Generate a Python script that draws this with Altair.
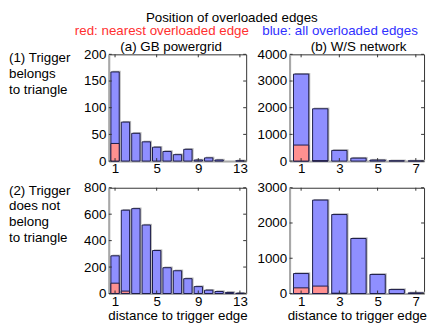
import altair as alt
import pandas as pd

# ---- data ----
dist_a = list(range(1, 14))
blue_a1 = [167, 73, 52, 36, 26, 18, 12, 22, 2, 6, 2, 0, 0.5]
red_a1 = [33, 0, 0, 0, 0, 0, 0, 0, 0, 0, 0, 0, 0]
blue_a2 = [285, 630, 642, 518, 325, 195, 172, 112, 52, 25, 15, 8, 2]
red_a2 = [78, 18, 0, 0, 0, 0, 0, 0, 0, 0, 0, 0, 0]

dist_b = list(range(1, 8))
blue_b1 = [3260, 1960, 400, 110, 37, 10, 5]
red_b1 = [600, 15, 0, 0, 0, 0, 0]
blue_b2 = [566, 2650, 2240, 1560, 540, 112, 17]
red_b2 = [160, 210, 8, 0, 0, 0, 0]

xticks_a = [1, 5, 9, 13]
xticks_b = [1, 3, 5, 7]
yticks_a1 = [0, 50, 100, 150, 200]
yticks_b1 = [0, 1000, 2000, 3000, 4000]
yticks_a2 = [0, 200, 400, 600, 800]
yticks_b2 = [0, 1000, 2000, 3000]

FONT = "Liberation Sans"
FS = 13.5
BLUE = "#8f8fff"
RED = "#ff9090"
EDGE = "#1c1c48"


def one_row():
    return alt.Chart(pd.DataFrame({"k": [0]}))


def panel(dist, blue, red, xdom, xticks, ydom, yticks, w, h, xtitle, extra):
    df = pd.DataFrame({"d": dist, "blue": blue, "red": red})
    xs = alt.Scale(domain=xdom, nice=False, zero=False)
    ys = alt.Scale(domain=ydom, nice=False)
    xax = alt.Axis(values=xticks, ticks=False, grid=False, domainColor="#a8a8a8",
                   domainWidth=2, labelPadding=1, labelFlush=False, format="d",
                   title=xtitle if xtitle else None, titlePadding=1)
    yax = alt.Axis(values=yticks, ticks=False, grid=False, domainColor="#a8a8a8",
                   domainWidth=2, labelPadding=3, format="d", title=None)
    base = alt.Chart(df).transform_calculate(x0="datum.d - 0.4", x1="datum.d + 0.4")
    X = alt.X("x0:Q", scale=xs, axis=xax)
    Y = alt.Y("blue:Q", scale=ys, axis=yax)
    shadow = base.mark_rect(fill="#b4b4b4", xOffset=1.5, x2Offset=1.5, yOffset=-1.2).encode(
        x=X, x2="x1:Q", y=Y, y2=alt.datum(0)).transform_filter("datum.blue > 0")
    bars = base.mark_rect(fill=BLUE, stroke=EDGE, strokeWidth=1).encode(
        x=X, x2="x1:Q", y=Y, y2=alt.datum(0)).transform_filter("datum.blue > 0")
    reds = base.mark_rect(fill=RED, stroke=EDGE, strokeWidth=1).encode(
        x=X, x2="x1:Q", y=alt.Y("red:Q", scale=ys, axis=yax), y2=alt.datum(0)
    ).transform_filter("datum.red > 0")
    yt = alt.Chart(pd.DataFrame({"v": yticks}))
    xt = alt.Chart(pd.DataFrame({"v": xticks}))
    YT = alt.Y("v:Q", scale=ys, axis=yax)
    XT = alt.X("v:Q", scale=xs, axis=xax)
    tick_l = yt.mark_rule(color="#333", strokeWidth=1).encode(y=YT, x=alt.value(0), x2=alt.value(3))
    tick_r = yt.mark_rule(color="#333", strokeWidth=1).encode(y=YT, x=alt.value(w - 3), x2=alt.value(w))
    tick_b = xt.mark_rule(color="#333", strokeWidth=1).encode(x=XT, y=alt.value(h - 3), y2=alt.value(h))
    tick_t = xt.mark_rule(color="#333", strokeWidth=1).encode(x=XT, y=alt.value(0), y2=alt.value(3))
    layers = [shadow, bars, reds, tick_l, tick_r, tick_b, tick_t] + extra
    return alt.layer(*layers).properties(width=w, height=h)


def label(text, x, y, color="black", align="left"):
    return one_row().mark_text(text=text, align=align, baseline="top", font=FONT, fontSize=FS,
                               color=color, lineBreak="\n", lineHeight=16).encode(
        x=alt.value(x), y=alt.value(y))


WA, WB, H1, H2 = 139, 136, 108, 107

extra_a1 = [
    label("Position of overloaded edges", 124.5, -44, align="center"),
    label("red: nearest overloaded edge", 53.7, -31, color="#ff3030", align="center"),
    label("(a) GB powergrid", 63, -14, align="center"),
    label("(1) Trigger\nbelongs\nto triangle", -101, -3),
]
extra_b1 = [
    label("blue: all overloaded edges", 51, -31, color="#3030ff", align="center"),
    label("(b) W/S network", 69.7, -14, align="center"),
]
extra_a2 = [label("(2) Trigger\ndoes not\nbelong\nto triangle", -101, -4)]

pa1 = panel(dist_a, blue_a1, red_a1, [0.4, 13.6], xticks_a, [0, 200], yticks_a1, WA, H1, None, extra_a1)
pb1 = panel(dist_b, blue_b1, red_b1, [0.4, 7.43], xticks_b, [0, 4000], yticks_b1, WB, H1, None, extra_b1)
pa2 = panel(dist_a, blue_a2, red_a2, [0.4, 13.6], xticks_a, [0, 800], yticks_a2, WA, H2,
            "distance to trigger edge", extra_a2)
pb2 = panel(dist_b, blue_b2, red_b2, [0.4, 7.43], xticks_b, [0, 3000], yticks_b2, WB, H2,
            "distance to trigger edge", [])

chart = alt.concat(pa1, pb1, pa2, pb2, columns=2, spacing={"row": 27, "column": 44},
                   bounds="flush").properties(padding=0).configure_view(
    stroke="#333", strokeWidth=1
).configure_axis(
    labelFont=FONT, labelFontSize=FS, labelColor="black", titleFont=FONT, titleFontSize=FS,
    titleFontWeight="normal", titleColor="black"
)

chart.save("out.html", embed_options={"renderer": "svg", "actions": False})
